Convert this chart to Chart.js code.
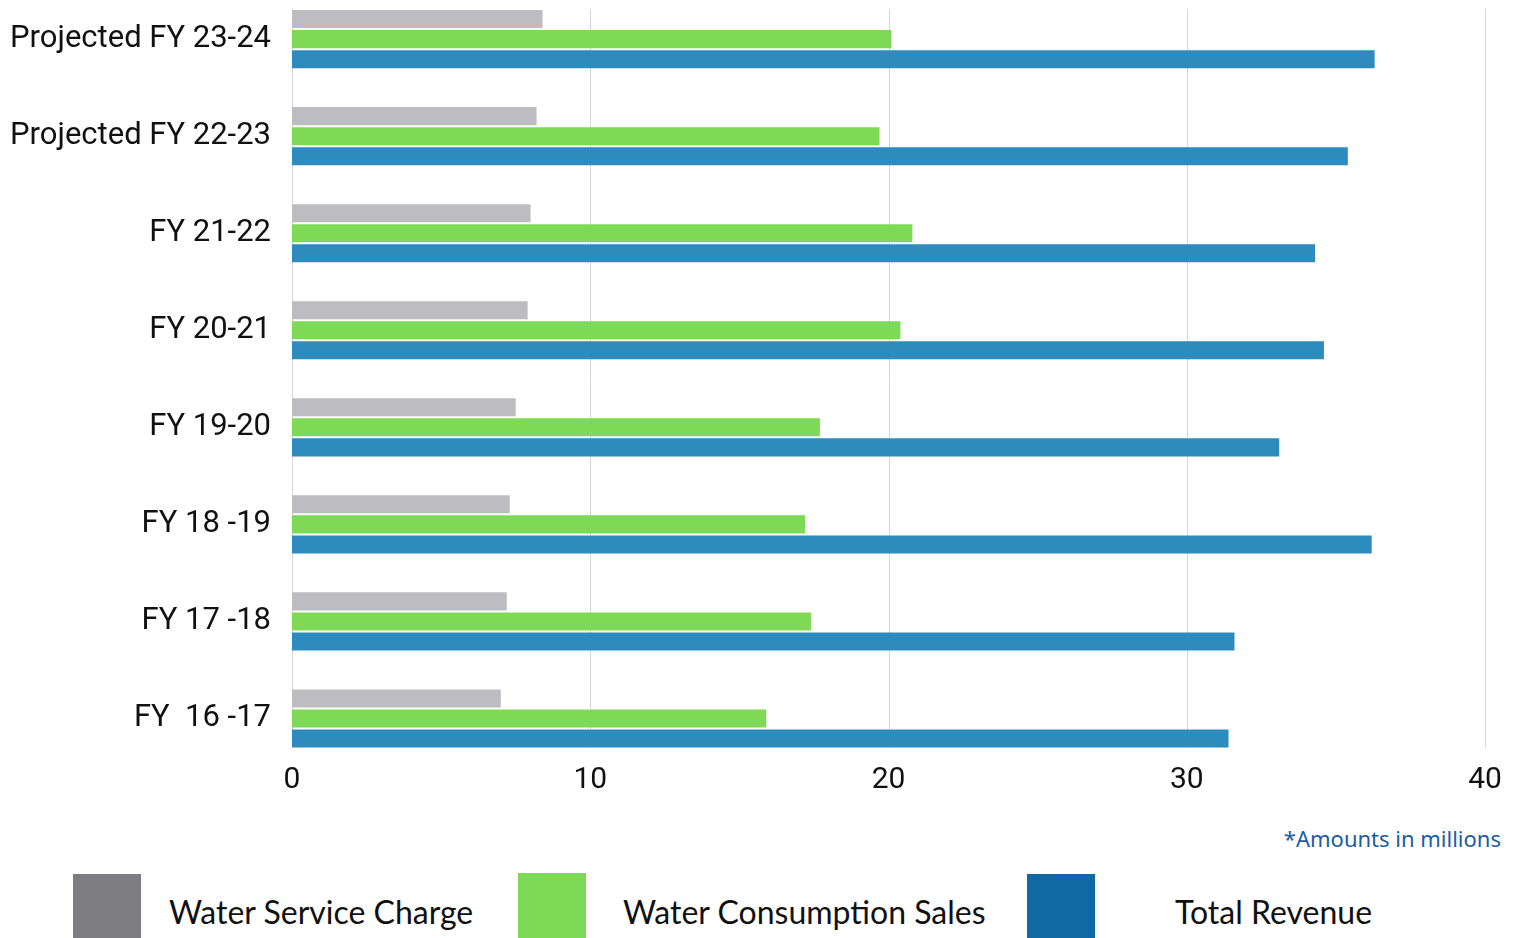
<!DOCTYPE html>
<html>
<head>
<meta charset="utf-8">
<script src="https://cdn.jsdelivr.net/npm/chart.js@4/dist/chart.umd.min.js"></script>
<style>
  html, body { margin: 0; padding: 0; background: #fff; }
  body { width: 1520px; height: 938px; position: relative; overflow: hidden; }
  #wrap { position: absolute; left: 0; top: -49px; width: 1520px; height: 868px; }
  #note { position: absolute; right: 19px; top: 823px; font: 22px "Noto Sans", sans-serif; color: #1c5da3; }
  .lg { position: absolute; top: 874px; height: 66px; width: 68px; }
  .lt { position: absolute; top: 892px; font: 32px Lato, sans-serif; color: #111; white-space: nowrap; }
</style>
</head>
<body>
<div id="wrap"><canvas id="c"></canvas></div>
<div id="note">*Amounts in millions</div>
<div class="lg" style="left:73px;background:#7e7d82"></div>
<div class="lt" style="left:169px">Water Service Charge</div>
<div class="lg" style="left:518px;top:873px;background:#7ed957"></div>
<div class="lt" style="left:623px">Water Consumption Sales</div>
<div class="lg" style="left:1027px;background:#1169a3"></div>
<div class="lt" style="left:1175px">Total Revenue</div>
<script>
// fiscal years, top to bottom as shown
const years = ['Projected FY 23-24', 'Projected FY 22-23', 'FY 21-22', 'FY 20-21',
  'FY 19-20', 'FY 18 -19', 'FY 17 -18', 'FY  16 -17'];

// amounts in millions
const serviceCharge = [8.4, 8.2, 8.0, 7.9, 7.5, 7.3, 7.2, 7.0];
const consumptionSales = [20.1, 19.7, 20.8, 20.4, 17.7, 17.2, 17.4, 15.9];
const totalRevenue = [36.3, 35.4, 34.3, 34.6, 33.1, 36.2, 31.6, 31.4];

const xTicks = [0, 10, 20, 30, 40];

// vertical grid lines only as tall as the bars
const gridPlugin = {
  id: 'shortGrid',
  beforeDatasetsDraw(chart) {
    const first = chart.getDatasetMeta(0).data[0];
    const lastMeta = chart.getDatasetMeta(chart.data.datasets.length - 1);
    const last = lastMeta.data[lastMeta.data.length - 1];
    const top = first.y - first.height / 2;
    const bottom = last.y + last.height / 2;
    const ctx = chart.ctx;
    ctx.save();
    ctx.strokeStyle = '#d6d6d6';
    ctx.lineWidth = 1;
    xTicks.forEach(v => {
      const x = Math.round(chart.scales.x.getPixelForValue(v)) + 0.5;
      ctx.beginPath();
      ctx.moveTo(x, top - 1);
      ctx.lineTo(x, bottom);
      ctx.stroke();
    });
    ctx.restore();
  }
};

const bar = { categoryPercentage: 0.62, barPercentage: 0.9, borderWidth: 0 };

new Chart(document.getElementById('c'), {
  type: 'bar',
  data: {
    labels: years,
    datasets: [
      { label: 'Water Service Charge', data: serviceCharge, backgroundColor: '#bdbdc1', ...bar },
      { label: 'Water Consumption Sales', data: consumptionSales, backgroundColor: '#7ed957', ...bar },
      { label: 'Total Revenue', data: totalRevenue, backgroundColor: '#2e8bbd', ...bar }
    ]
  },
  options: {
    indexAxis: 'y',
    responsive: true,
    maintainAspectRatio: false,
    animation: false,
    layout: { padding: { left: 0, right: 35, top: 0, bottom: 0 } },
    plugins: { legend: { display: false }, tooltip: { enabled: false } },
    scales: {
      x: {
        min: 0,
        max: 40,
        afterBuildTicks: s => { s.ticks = xTicks.map(v => ({ value: v })); },
        afterFit: s => { s.height = 52; },
        grid: { display: false, drawTicks: false },
        border: { display: false },
        ticks: { color: '#111', padding: -5, font: { family: 'Roboto', size: 30 } }
      },
      y: {
        afterFit: s => { s.width = 292; },
        grid: { display: false, drawTicks: false },
        border: { display: false },
        ticks: { color: '#111', padding: 21, font: { family: 'Roboto', size: 31 } }
      }
    }
  },
  plugins: [gridPlugin]
});
</script>
</body>
</html>
